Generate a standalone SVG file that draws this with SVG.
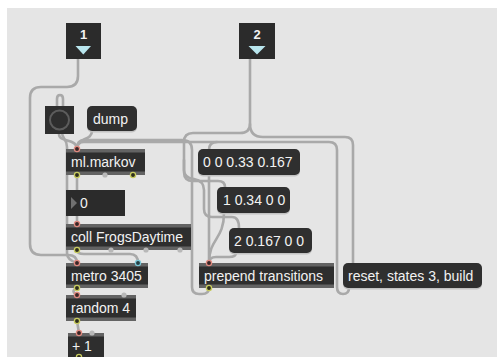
<svg xmlns="http://www.w3.org/2000/svg" width="497" height="357" viewBox="0 0 497 357">
<style>
.cable{fill:none;stroke:#a9a9a9;stroke-width:2.6;stroke-linecap:round;stroke-linejoin:round}
.obj{fill:#2e2e2e}
.band{fill:#636363}
.msg{fill:#2f2f2f}
.sh{fill:#c2c2c2}
.t{font-family:"Liberation Sans",Arial,sans-serif;font-size:14px;fill:#f2f2f2}
.tb{font-family:"Liberation Sans",Arial,sans-serif;font-size:13px;font-weight:bold;fill:#f2f2f2;text-anchor:middle}
.in{fill:#3a2626;stroke:#e08a80;stroke-width:1.3}
.out{fill:#2e2e1e;stroke:#c8cc60;stroke-width:1.3}
.cy{fill:#264045;stroke:#7cc8d8;stroke-width:1.3}
.nc{fill:#b8b8b8}
.tri{fill:#b9e6ee}
</style>
<rect x="0" y="0" width="497" height="357" fill="#ffffff"/>
<rect x="7" y="8" width="490" height="349" fill="#e5e5e5"/>

<g id="connectors">
<path class="cable" d="M78,59 V76 Q78,87 67,87 H41 Q30,87 30,98 V244 Q30,255 41,255 H68 Q77,255 77,263"/>
<path class="cable" d="M57,112 V99 Q57,95 60,95 Q63,95 63,99 V112"/>
<path class="cable" d="M62,132 C62,140 67,138 67,147 V253 Q67,260 77,263"/>
<path class="cable" d="M59,134 C59,143 77,138 77,149"/>
<path class="cable" d="M92,131 C92,141 77,137 77,149"/>
<path class="cable" d="M77,175 V190"/>
<path class="cable" d="M77,216 V224"/>
<path class="cable" d="M77,250 Q77,254 84,254 H130 Q138,254 138,263"/>
<path class="cable" d="M77,288 Q70,291 77,295"/>
<path class="cable" d="M77,321 L79,333"/>
<path class="cable" d="M209,288 Q209,294 202,294 H199 Q192,294 192,287 V150 Q192,140 182,140 H84 Q77,140 77,149"/>
<path class="cable" d="M349,288 Q349,294 343,294 Q337,294 337,287 V150 Q337,142 329,142 H84 Q77,142 77,149"/>
<path class="cable" d="M250,59 V124 Q250,137 263,137 H345 Q353,137 353,145 V263"/>
<path class="cable" d="M250,124 Q250,133 240,133 H193 Q184,133 184,142 V172 Q184,181 193,181 H218 Q225,181 225,187"/>
<path class="cable" d="M184,160 V170 Q184,178 194,179 Q204,181 204,190 V209 Q204,217 212,217 H232 Q239,217 239,228"/>
<path class="cable" d="M217,142 Q209,142 209,150"/>
<path class="cable" d="M209,175 V263"/>
<path class="cable" d="M224,213 C224,240 209,238 209,263"/>
<path class="cable" d="M236,253 Q236,257 229,257 H216 Q209,257 209,263"/>
</g>

<g id="inlet1">
<rect x="66" y="23" width="35" height="36" fill="#2b2b2b"/>
<text class="tb" x="83.5" y="38.5">1</text>
<polygon class="tri" points="75.5,46 91,46 83.3,54.5"/>
</g>
<g id="inlet2">
<rect x="239" y="23" width="36" height="36" fill="#2b2b2b"/>
<text class="tb" x="257" y="38.5">2</text>
<polygon class="tri" points="248.5,46 265.5,46 257,54.5"/>
</g>

<g id="toggle">
<rect x="45" y="106" width="29" height="28" fill="#2e2e2e"/>
<circle cx="59.5" cy="120" r="9.5" fill="none" stroke="#5c5c5c" stroke-width="2"/>
</g>

<g id="dump">
<rect class="sh" x="87" y="107.5" width="50" height="25" rx="5"/>
<rect class="msg" x="87" y="106" width="50" height="25" rx="5"/>
<text class="t" x="93" y="124">dump</text>
</g>

<g id="mlmarkov">
<rect class="obj" x="66" y="149" width="79" height="26"/>
<rect class="band" x="66" y="149" width="79" height="3.5"/>
<rect class="band" x="66" y="171.5" width="79" height="3.5"/>
<text class="t" x="71" y="167">ml.markov</text>
<circle class="in" cx="77" cy="149" r="2.6"/>
<circle class="out" cx="77" cy="175" r="2.6"/>
<circle class="nc" cx="105" cy="175" r="2.6"/>
<circle class="out" cx="133" cy="175" r="2.6"/>
</g>

<g id="number">
<rect x="66" y="190" width="59" height="26" fill="#2b2b2b"/>
<polygon points="71,197 77,203 71,209" fill="#707070"/>
<text class="t" x="80" y="208">0</text>
</g>

<g id="coll">
<rect class="obj" x="66" y="224" width="125" height="26"/>
<rect class="band" x="66" y="224" width="125" height="3.5"/>
<rect class="band" x="66" y="246.5" width="125" height="3.5"/>
<text class="t" x="71" y="242">coll FrogsDaytime</text>
<circle class="in" cx="77" cy="224" r="2.6"/>
<circle class="out" cx="77" cy="250" r="2.6"/>
<circle class="nc" cx="111" cy="250" r="2.6"/>
<circle class="nc" cx="146" cy="250" r="2.6"/>
<circle class="nc" cx="180" cy="250" r="2.6"/>
</g>

<g id="metro">
<rect class="obj" x="66" y="263" width="82" height="25"/>
<rect class="band" x="66" y="263" width="82" height="3.5"/>
<rect class="band" x="66" y="284.5" width="82" height="3.5"/>
<text class="t" x="71" y="281">metro 3405</text>
<circle class="in" cx="77" cy="263" r="2.6"/>
<circle class="cy" cx="138" cy="263" r="2.6"/>
<circle class="out" cx="77" cy="288" r="2.6"/>
</g>

<g id="random">
<rect class="obj" x="66" y="295" width="70" height="26"/>
<rect class="band" x="66" y="295" width="70" height="3.5"/>
<rect class="band" x="66" y="317.5" width="70" height="3.5"/>
<text class="t" x="71" y="313">random 4</text>
<circle class="in" cx="77" cy="295" r="2.6"/>
<circle class="nc" cx="124" cy="295" r="2.6"/>
<circle class="out" cx="77" cy="321" r="2.6"/>
</g>

<g id="plus1">
<rect class="obj" x="68" y="333" width="36" height="26"/>
<rect class="band" x="68" y="333" width="36" height="3.5"/>
<text class="t" x="72" y="351">+ 1</text>
<circle class="in" cx="79" cy="333" r="2.6"/>
<circle class="nc" cx="92" cy="333" r="2.6"/>
<circle class="out" cx="79" cy="357" r="2.6"/>
</g>

<g id="msg1">
<rect class="sh" x="198" y="150.5" width="102" height="26" rx="5"/>
<rect class="msg" x="198" y="149" width="102" height="26" rx="5"/>
<text class="t" x="203" y="167">0 0 0.33 0.167</text>
</g>
<g id="msg2">
<rect class="sh" x="217" y="188.5" width="73" height="26" rx="5"/>
<rect class="msg" x="217" y="187" width="73" height="26" rx="5"/>
<text class="t" x="223" y="205">1 0.34 0 0</text>
</g>
<g id="msg3">
<rect class="sh" x="229" y="229.5" width="83" height="25" rx="5"/>
<rect class="msg" x="229" y="228" width="83" height="25" rx="5"/>
<text class="t" x="234" y="246">2 0.167 0 0</text>
</g>

<g id="prepend">
<rect class="obj" x="199" y="263" width="135" height="25"/>
<rect class="band" x="199" y="263" width="135" height="3.5"/>
<rect class="band" x="199" y="284.5" width="135" height="3.5"/>
<text class="t" x="204" y="281">prepend transitions</text>
<circle class="in" cx="209" cy="263" r="2.6"/>
<circle class="out" cx="209" cy="288" r="2.6"/>
</g>

<g id="reset">
<rect class="sh" x="343" y="264.5" width="139" height="25" rx="5"/>
<rect class="msg" x="343" y="263" width="139" height="25" rx="5"/>
<text class="t" x="348" y="281">reset, states 3, build</text>
</g>
</svg>
